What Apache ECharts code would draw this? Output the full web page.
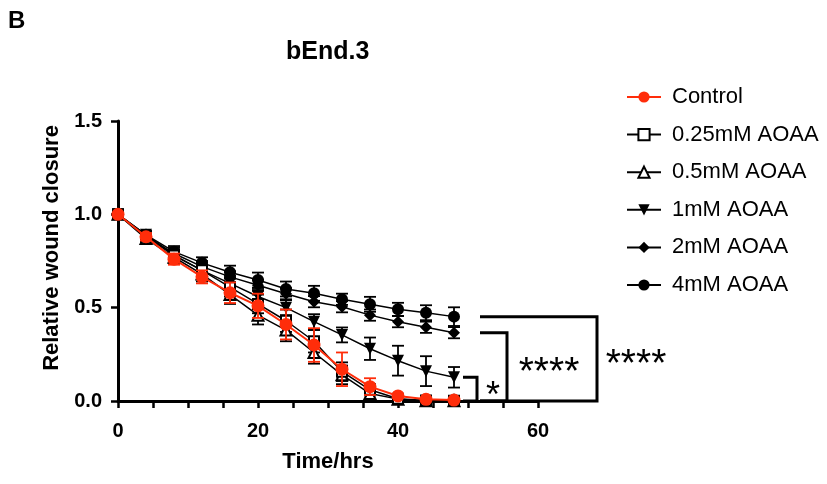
<!DOCTYPE html>
<html>
<head>
<meta charset="utf-8">
<script src="https://cdn.jsdelivr.net/npm/echarts@6/dist/echarts.min.js"></script>
<style>
html,body{margin:0;padding:0;background:#fff;}
#c{width:827px;height:484px;}
</style>
</head>
<body>
<div id="c"></div>
<script>
var FONT = 'Arial, "Liberation Sans", Helvetica, sans-serif';
var times = [0, 4, 8, 12, 16, 20, 24, 28, 32, 36, 40, 44, 48];

var seriesNames = ['Control', '0.25mM AOAA', '0.5mM AOAA', '1mM AOAA', '2mM AOAA', '4mM AOAA'];

var control   = [1.00, 0.88, 0.76, 0.665, 0.58, 0.51, 0.41, 0.30, 0.17, 0.077, 0.027, 0.009, 0.005];
var controlErr= [0.00, 0.02, 0.03, 0.035, 0.055, 0.065, 0.08, 0.09, 0.09, 0.045, 0.01, 0.006, 0.006];

var aoaa025   = [1.00, 0.88, 0.78, 0.70, 0.61, 0.52, 0.43, 0.32, 0.157, 0.06, 0.012, 0.003, 0.002];
var aoaa025Err= [0.00, 0.02, 0.03, 0.04, 0.05, 0.05, 0.06, 0.06, 0.05, 0.03, 0.01, 0.005, 0.005];

var aoaa05    = [1.00, 0.87, 0.77, 0.68, 0.57, 0.46, 0.38, 0.26, 0.14, 0.04, 0.01, 0.002, 0.002];
var aoaa05Err = [0.00, 0.02, 0.03, 0.04, 0.05, 0.05, 0.06, 0.06, 0.05, 0.03, 0.01, 0.005, 0.005];

var aoaa1     = [1.00, 0.89, 0.78, 0.70, 0.63, 0.56, 0.50, 0.425, 0.354, 0.28, 0.216, 0.16, 0.127];
var aoaa1Err  = [0.00, 0.02, 0.03, 0.03, 0.04, 0.04, 0.04, 0.04, 0.04, 0.06, 0.08, 0.08, 0.055];

var aoaa2     = [1.00, 0.885, 0.79, 0.72, 0.665, 0.62, 0.575, 0.532, 0.505, 0.46, 0.425, 0.395, 0.366];
var aoaa2Err  = [0.00, 0.02, 0.03, 0.03, 0.03, 0.03, 0.03, 0.03, 0.03, 0.03, 0.03, 0.03, 0.03];

var aoaa4     = [1.00, 0.89, 0.80, 0.74, 0.69, 0.648, 0.60, 0.577, 0.545, 0.518, 0.491, 0.473, 0.452];
var aoaa4Err  = [0.00, 0.02, 0.03, 0.03, 0.035, 0.04, 0.04, 0.04, 0.03, 0.04, 0.035, 0.04, 0.05];

var xTickLabels = [0, 20, 40, 60];
var yTickLabels = [0.0, 0.5, 1.0, 1.5];
var sigLabels = ['*', '****', '****'];

var RED = '#ff2d0a';
var BLACK = '#000000';

function pairs(vals) { return times.map(function (t, i) { return [t, vals[i]]; }); }
function errData(vals, errs) { return times.map(function (t, i) { return [t, vals[i] - errs[i], vals[i] + errs[i]]; }); }

function errSeries(name, vals, errs, color, z) {
  return {
    name: name + ' err',
    type: 'custom',
    z: z,
    silent: true,
    data: errData(vals, errs),
    encode: { x: 0, y: [1, 2] },
    renderItem: function (params, api) {
      var x = api.value(0);
      var lo = api.coord([x, api.value(1)]);
      var hi = api.coord([x, api.value(2)]);
      var w = 6;
      var st = { stroke: color, lineWidth: 1.8 };
      return {
        type: 'group',
        children: [
          { type: 'line', shape: { x1: lo[0], y1: lo[1], x2: hi[0], y2: hi[1] }, style: st },
          { type: 'line', shape: { x1: lo[0] - w, y1: lo[1], x2: lo[0] + w, y2: lo[1] }, style: st },
          { type: 'line', shape: { x1: hi[0] - w, y1: hi[1], x2: hi[0] + w, y2: hi[1] }, style: st }
        ]
      };
    }
  };
}

function lineSeries(name, vals, symbol, size, fill, color, z, rotate, lw) {
  return {
    name: name,
    type: 'line',
    z: z,
    data: pairs(vals),
    symbol: symbol,
    symbolSize: size,
    symbolRotate: rotate || 0,
    showAllSymbol: true,
    lineStyle: { color: color, width: lw || 1.5 },
    itemStyle: { color: fill, borderColor: color, borderWidth: fill === '#ffffff' ? 2 : 0 },
    emphasis: { disabled: true },
    animation: false
  };
}

var chart = echarts.init(document.getElementById('c'), null, { renderer: 'canvas' });

var option = {
  animation: false,
  backgroundColor: '#ffffff',
  textStyle: { fontFamily: FONT },
  title: {
    text: 'bEnd.3',
    left: 281, top: 35,
    textStyle: { fontFamily: FONT, fontWeight: 'bold', fontSize: 25, color: '#000' }
  },
  grid: { left: 118, right: 289, top: 121, bottom: 83 },
  legend: {
    orient: 'vertical',
    left: 621, top: 81,
    itemWidth: 34, itemHeight: 14,
    itemGap: 15.6,
    data: seriesNames,
    textStyle: { fontFamily: FONT, fontSize: 22, color: '#000', padding: [0, 0, 0, 6] },
    selectedMode: false
  },
  xAxis: {
    type: 'value',
    min: 0, max: 60, interval: 5,
    name: 'Time/hrs',
    nameLocation: 'middle',
    nameGap: 50,
    nameTextStyle: { fontFamily: FONT, fontWeight: 'bold', fontSize: 22, color: '#000' },
    axisLine: { lineStyle: { color: '#000', width: 3 } },
    axisTick: { show: true, length: 7, lineStyle: { color: '#000', width: 2.5 } },
    axisLabel: {
      margin: 20,
      fontFamily: FONT, fontWeight: 'bold', fontSize: 20, color: '#000',
      formatter: function (v) { return xTickLabels.indexOf(v) >= 0 ? String(v) : ''; }
    },
    splitLine: { show: false }
  },
  yAxis: {
    type: 'value',
    min: 0, max: 1.5, interval: 0.5,
    axisLine: { show: true, lineStyle: { color: '#000', width: 3 } },
    axisTick: { show: true, length: 7, lineStyle: { color: '#000', width: 2.5 } },
    axisLabel: {
      margin: 16,
      fontFamily: FONT, fontWeight: 'bold', fontSize: 20, color: '#000',
      formatter: function (v) {
        var m = yTickLabels.filter(function (t) { return Math.abs(t - v) < 1e-9; });
        return m.length ? m[0].toFixed(1) : '';
      }
    },
    splitLine: { show: false }
  },
  series: [
    errSeries('4mM AOAA', aoaa4, aoaa4Err, BLACK, 2),
    errSeries('2mM AOAA', aoaa2, aoaa2Err, BLACK, 2),
    errSeries('1mM AOAA', aoaa1, aoaa1Err, BLACK, 2),
    errSeries('0.5mM AOAA', aoaa05, aoaa05Err, BLACK, 2),
    errSeries('0.25mM AOAA', aoaa025, aoaa025Err, BLACK, 2),
    lineSeries('4mM AOAA', aoaa4, 'circle', 12, BLACK, BLACK, 3),
    lineSeries('2mM AOAA', aoaa2, 'diamond', 12, BLACK, BLACK, 3),
    lineSeries('1mM AOAA', aoaa1, 'triangle', 12, BLACK, BLACK, 3, 180),
    lineSeries('0.5mM AOAA', aoaa05, 'triangle', 11, '#ffffff', BLACK, 3),
    lineSeries('0.25mM AOAA', aoaa025, 'rect', 10, '#ffffff', BLACK, 3),
    errSeries('Control', control, controlErr, RED, 4),
    lineSeries('Control', control, 'circle', 13, RED, RED, 5, 0, 2)
  ],
  graphic: [
    { type: 'text', left: 8, top: 9, style: { text: 'B', font: 'bold 24px ' + FONT, fill: '#000' } },
    { type: 'text', x: 52, y: 248, rotation: Math.PI / 2,
      style: { text: 'Relative wound closure', font: 'bold 22px ' + FONT, fill: '#000', align: 'center', verticalAlign: 'middle' } }
  ]
};
chart.setOption(option);

// significance brackets, anchored to the end values of the compared series
var lastIdx = times.length - 1;
function px(x, y) { return chart.convertToPixel({ gridIndex: 0 }, [x, y]); }
var base = px(0, 0)[1];
var yA = px(0, aoaa1[lastIdx])[1];
var yB = px(0, aoaa2[lastIdx])[1];
var yC = px(0, aoaa4[lastIdx])[1];
var LW = 3;
var st = { stroke: '#000', lineWidth: LW, fill: null, lineJoin: 'miter' };
var brackets = [
  { type: 'polyline', shape: { points: [[463, yA], [477, yA], [477, base], [463, base]] }, style: st, z: 10 },
  { type: 'polyline', shape: { points: [[480, yB], [507, yB], [507, base], [480, base]] }, style: st, z: 10 },
  { type: 'polyline', shape: { points: [[480, yC], [597, yC], [597, base], [480, base]] }, style: st, z: 10 },
  { type: 'text', x: 493, y: (yA + base) / 2 + 8, style: { text: sigLabels[0], font: '36px ' + FONT, fill: '#000', align: 'center', verticalAlign: 'middle' }, z: 10 },
  { type: 'text', x: 549, y: (yB + base) / 2 + 6, style: { text: sigLabels[1], font: '39px ' + FONT, fill: '#000', align: 'center', verticalAlign: 'middle' }, z: 10 },
  { type: 'text', x: 636, y: (yC + base) / 2 + 6, style: { text: sigLabels[2], font: '39px ' + FONT, fill: '#000', align: 'center', verticalAlign: 'middle' }, z: 10 }
];
chart.setOption({ graphic: option.graphic.concat(brackets) });
</script>
</body>
</html>
